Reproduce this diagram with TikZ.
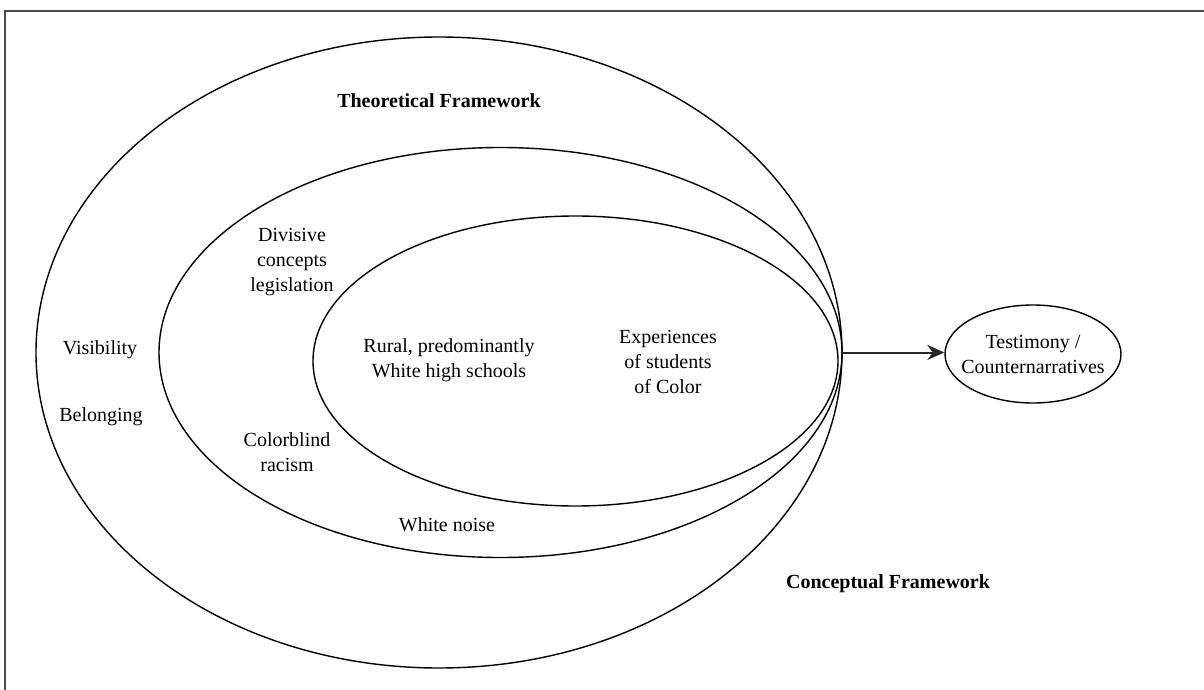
\documentclass[tikz,border=0pt]{standalone}
\usepackage{fontspec}
\setmainfont{Liberation Serif}
\usetikzlibrary{shapes.geometric,arrows.meta}

\tikzset{
  ring/.style={draw, ellipse, line width=1.4pt, inner sep=0pt},
  label/.style={align=center, font=\fontsize{20}{25}\selectfont},
  title/.style={label, font=\fontsize{20}{25}\selectfont\bfseries},
}

\begin{document}
\begin{tikzpicture}[x=1pt, y=-1pt]
            \useasboundingbox (0,0) rectangle (1204,690);

            \draw[line width=2.2pt, black!70] (5,690) -- (5,11) -- (1204,11);

            \node[ring, minimum width=806pt, minimum height=631pt] (outer)  at (439,352.5) {};
            \node[ring, minimum width=683pt, minimum height=410pt] (middle) at (500.5,352.5) {};
            \node[ring, minimum width=525pt, minimum height=290pt] (inner)  at (575.5,361) {};
            \node[ring, minimum width=176pt, minimum height=98pt] (result) at (1033,354) {};
            \node[label] (testimony) at (result) {Testimony /\\Counternarratives};

            \draw[line width=2pt, black!85, -{Stealth[length=17pt, width=15pt]}]
                (outer.east) -- (outer.east -| result.west);

            \node[title] (theory)  at (439,101) {Theoretical Framework};
            \node[title] (concept) at (888,584) {Conceptual Framework};

            \node[label] (vis)     at (100,350) {Visibility};
            \node[label] (belong)  at (101,417) {Belonging};
            \node[label] (divide)  at (292,262) {Divisive\\concepts\\legislation};
            \node[label] (blind)   at (287,452) {Colorblind\\racism};
            \node[label] (noise)   at (447,525) {White noise};
            \node[label] (rural)   at (449,360) {Rural, predominantly\\White high schools};
            \node[label] (exper)   at (668,362) {Experiences\\of students\\of Color};
        \end{tikzpicture}
\end{document}
